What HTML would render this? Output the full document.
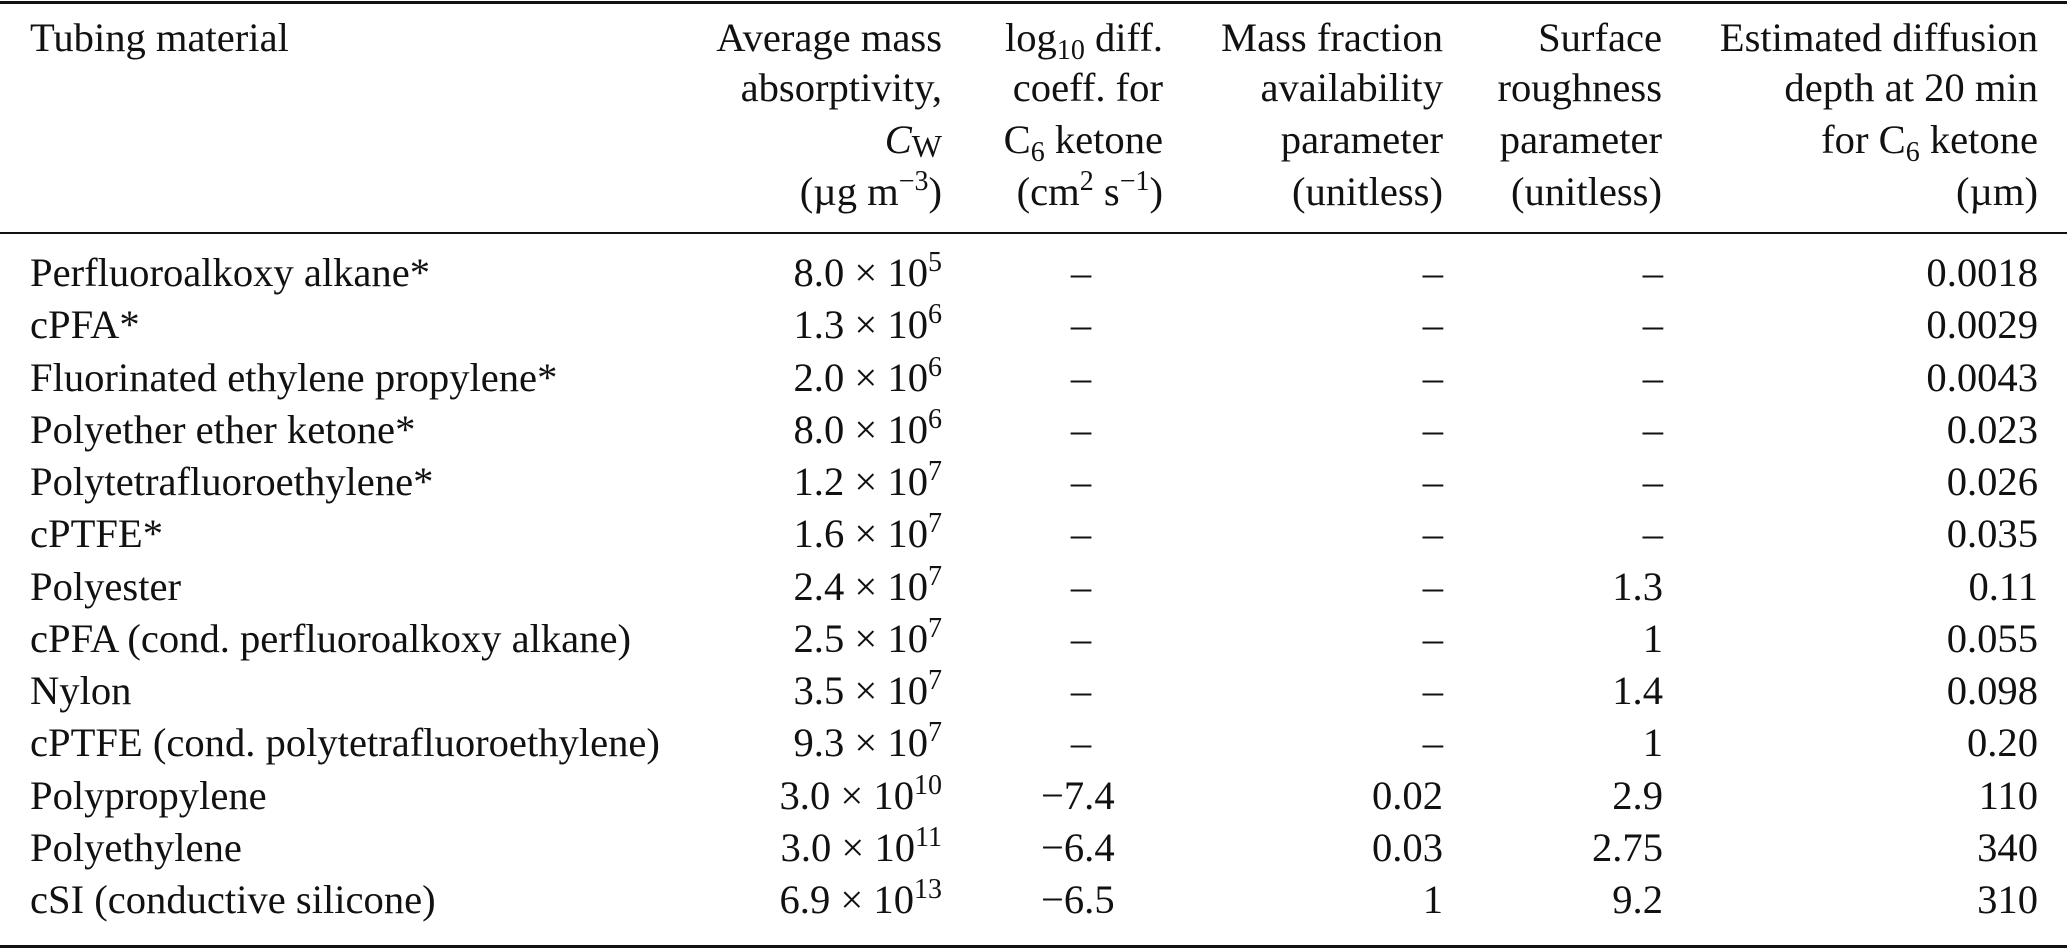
<!DOCTYPE html>
<html><head><meta charset="utf-8">
<style>
html,body{margin:0;padding:0;background:#fff;}
#wrap{position:relative;width:2067px;height:949px;overflow:hidden;font-family:"Liberation Serif",serif;font-size:40.6px;color:#111;}
.t{position:absolute;height:52px;line-height:52px;white-space:nowrap;}
.r{transform:translateX(-100%);}
.c{transform:translateX(-50%);}
.rule{position:absolute;left:0;width:2067px;background:#111;}
sup{font-size:28px;line-height:0;vertical-align:15px;}
sub{font-size:28px;line-height:0;vertical-align:-8px;}
</style></head><body>
<div id="wrap">
<div class="rule" style="top:1px;height:3px"></div>
<div class="rule" style="top:232px;height:2px"></div>
<div class="rule" style="top:945px;height:3px"></div>

<div class="t" style="left:30px;top:12px">Tubing material</div>

<div>
<div class="t r" style="left:942px;top:12px">Average mass</div>
<div class="t r" style="left:942px;top:62px">absorptivity,</div>
<div class="t r" style="left:942px;top:114px"><i>C</i><span style="font-size:32px;vertical-align:-4px">W</span></div>
<div class="t r" style="left:942px;top:166px">(µg m<sup>−3</sup>)</div>
</div>
<div>
<div class="t r" style="left:1163px;top:12px">log<sub>10</sub> diff.</div>
<div class="t r" style="left:1163px;top:62px">coeff. for</div>
<div class="t r" style="left:1163px;top:114px">C<sub>6</sub> ketone</div>
<div class="t r" style="left:1163px;top:166px">(cm<sup>2</sup> s<sup>−1</sup>)</div>
</div>
<div>
<div class="t r" style="left:1443px;top:12px">Mass fraction</div>
<div class="t r" style="left:1443px;top:62px">availability</div>
<div class="t r" style="left:1443px;top:114px">parameter</div>
<div class="t r" style="left:1443px;top:166px">(unitless)</div>
</div>
<div>
<div class="t r" style="left:1662px;top:12px">Surface</div>
<div class="t r" style="left:1662px;top:62px">roughness</div>
<div class="t r" style="left:1662px;top:114px">parameter</div>
<div class="t r" style="left:1662px;top:166px">(unitless)</div>
</div>
<div>
<div class="t r" style="left:2038px;top:12px">Estimated diffusion</div>
<div class="t r" style="left:2038px;top:62px">depth at 20 min</div>
<div class="t r" style="left:2038px;top:114px">for C<sub>6</sub> ketone</div>
<div class="t r" style="left:2038px;top:166px">(µm)</div>
</div>
<div id="body"></div>
</div>
<script>
const materials=["Perfluoroalkoxy alkane*","cPFA*","Fluorinated ethylene propylene*","Polyether ether ketone*","Polytetrafluoroethylene*","cPTFE*","Polyester","cPFA (cond. perfluoroalkoxy alkane)","Nylon","cPTFE (cond. polytetrafluoroethylene)","Polypropylene","Polyethylene","cSI (conductive silicone)"];
const absMant=["8.0","1.3","2.0","8.0","1.2","1.6","2.4","2.5","3.5","9.3","3.0","3.0","6.9"];
const absExp=["5","6","6","6","7","7","7","7","7","7","10","11","13"];
const diffCoeff=["–","–","–","–","–","–","–","–","–","–","−7.4","−6.4","−6.5"];
const massFrac=["–","–","–","–","–","–","–","–","–","–","0.02","0.03","1"];
const roughness=["–","–","–","–","–","–","1.3","1","1.4","1","2.9","2.75","9.2"];
const depth=["0.0018","0.0029","0.0043","0.023","0.026","0.035","0.11","0.055","0.098","0.20","110","340","310"];
const body=document.getElementById('body');
function cell(html,left,top,cls,name){
  const d=document.createElement('div');
  d.className='t '+cls;
  d.style.left=left+'px';d.style.top=top+'px';
  d.innerHTML=html;
  
  
  body.appendChild(d);
}
materials.forEach((m,i)=>{
  const top=273+i*52.25-26;
  cell(m,30,top,'','material-'+i);
  cell(absMant[i]+' × 10<sup>'+absExp[i]+'</sup>',942,top,'r','absorptivity-'+i);
  if(diffCoeff[i]==='–') cell('–',1081,top,'c','diff-coeff-'+i);
  else cell(diffCoeff[i],1041,top,'','diff-coeff-'+i);
  cell(massFrac[i],1443,top,'r','mass-fraction-'+i);
  cell(roughness[i],1663,top,'r','roughness-'+i);
  cell(depth[i],2038,top,'r','diffusion-depth-'+i);
});
</script>
</body></html>
